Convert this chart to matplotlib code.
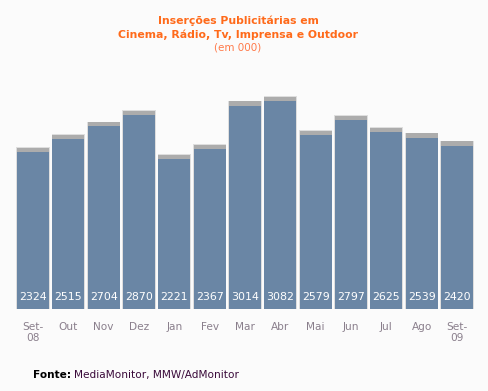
import matplotlib
matplotlib.use("Agg")
import matplotlib.pyplot as plt
import numpy as np

months = ["Set-\n08", "Out", "Nov", "Dez", "Jan", "Fev", "Mar", "Abr", "Mai", "Jun", "Jul", "Ago", "Set-\n09"]
values = [2324, 2515, 2704, 2870, 2221, 2367, 3014, 3082, 2579, 2797, 2625, 2539, 2420]

bg = "#fbfbfb"
fig = plt.figure(figsize=(4.89, 3.91), dpi=100, facecolor=bg)
ax = fig.add_axes([15.3 / 489, 82 / 391, (474.7 - 15.3) / 489, (309 - 59.25) / 391])
ax.set_facecolor(bg)

x = np.arange(len(values))
v = np.array(values)
ax.bar(x, v + 72, width=0.95, color="#dedede", zorder=1)
ax.bar(x, v + 62, width=0.91, color="#acacac", zorder=2)
ax.bar(x, v, width=0.9, color="#6a86a5", zorder=3)

for xi, val in zip(x, values):
    ax.text(xi, 180, str(val), ha="center", va="center", color="white", fontsize=7.9, zorder=4)

ax.set_xlim(-0.5, len(values) - 0.5)
ax.set_ylim(0, 3700)
ax.set_xticks(x)
ax.set_xticklabels(months, fontsize=7.6, color="#8a7f8c", linespacing=1.2)
ax.tick_params(axis="x", length=0, pad=9)
ax.set_yticks([])
for s in ax.spines.values():
    s.set_visible(False)

fig.text(238 / 489, 1 - 21 / 391, "Inserções Publicitárias em", ha="center", va="center",
         color="#ff6a1a", fontsize=7.8, fontweight="bold")
fig.text(238 / 489, 1 - 35 / 391, "Cinema, Rádio, Tv, Imprensa e Outdoor", ha="center", va="center",
         color="#ff6a1a", fontsize=7.8, fontweight="bold")
fig.text(238 / 489, 1 - 48 / 391, "(em 000)", ha="center", va="center",
         color="#ff7a4a", fontsize=7.5)

fig.text(33 / 489, 1 - 375 / 391, "Fonte:", ha="left", va="center",
         color="black", fontsize=7.6, fontweight="bold")
fig.text(74 / 489, 1 - 375 / 391, "MediaMonitor, MMW/AdMonitor", ha="left", va="center",
         color="#3a0a3a", fontsize=7.6)

fig.savefig("out.png", dpi=100, facecolor=bg)
